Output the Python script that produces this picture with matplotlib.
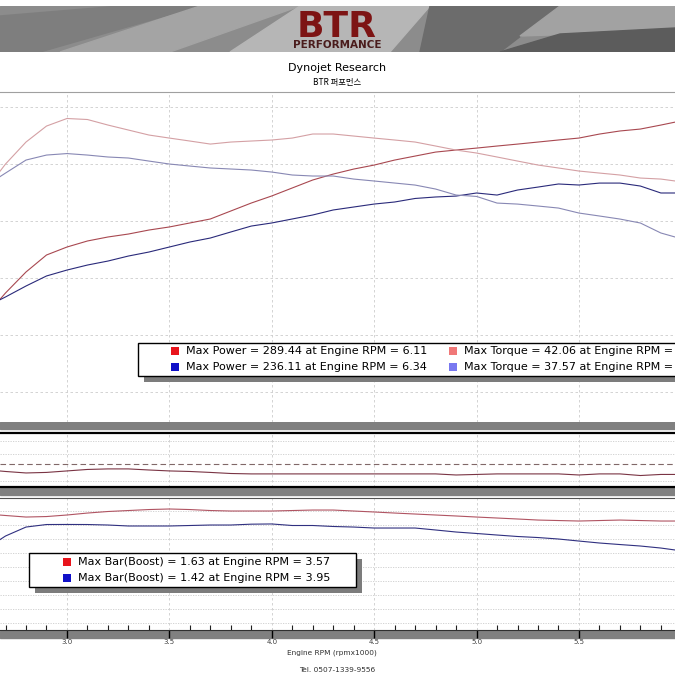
import matplotlib.pyplot as plt
from matplotlib.patches import Rectangle, Polygon

# engine rpm (x1000) shared by all runs
rpm = [2.67, 2.7, 2.8, 2.9, 3.0, 3.1, 3.2, 3.3, 3.4, 3.5, 3.6, 3.7, 3.8, 3.9,
       4.0, 4.1, 4.2, 4.3, 4.4, 4.5, 4.6, 4.7, 4.8, 4.9, 5.0, 5.1, 5.2, 5.3,
       5.4, 5.5, 5.6, 5.7, 5.8, 5.9, 5.97]

# run 1 (red) / run 2 (blue) power, hp
red_power = [130.7, 136.9, 155.3, 170.2, 177.2, 182.5, 186.0, 188.6, 192.1, 194.8,
             198.3, 201.8, 208.8, 215.8, 222.0, 229.0, 236.0, 241.2, 245.6, 249.1,
             253.5, 257.0, 260.5, 262.3, 264.0, 265.8, 267.5, 269.3, 271.1, 272.8,
             276.3, 279.0, 280.7, 284.2, 286.8]
blue_power = [130.7, 133.4, 143.0, 151.8, 157.0, 161.4, 164.9, 169.3, 172.8, 177.2,
              181.6, 185.1, 190.4, 195.6, 198.3, 201.8, 205.3, 209.7, 212.3, 214.9,
              216.7, 219.8, 221.1, 221.9, 224.6, 222.8, 227.2, 229.8, 232.5, 231.6,
              233.3, 233.3, 230.7, 224.6, 224.6]

# torque, kgm
red_torque = [35.13, 36.16, 38.98, 41.03, 42.00, 41.87, 41.16, 40.52, 39.88, 39.49,
              39.11, 38.72, 38.98, 39.11, 39.24, 39.49, 40.01, 40.01, 39.75, 39.49,
              39.24, 38.98, 38.47, 37.95, 37.57, 37.06, 36.54, 36.03, 35.65, 35.26,
              35.00, 34.75, 34.36, 34.23, 33.98]
blue_torque = [34.49, 35.00, 36.67, 37.31, 37.50, 37.31, 37.06, 36.93, 36.54, 36.16,
               35.90, 35.65, 35.52, 35.39, 35.13, 34.75, 34.62, 34.62, 34.23, 33.98,
               33.72, 33.46, 32.95, 32.18, 32.00, 31.15, 31.02, 30.77, 30.51, 29.87,
               29.49, 29.10, 28.59, 27.31, 26.79]

# air/fuel ratio (middle panel)
afr = [11.78, 11.74, 11.63, 11.67, 11.78, 11.89, 11.93, 11.93, 11.85, 11.78,
       11.74, 11.67, 11.59, 11.56, 11.56, 11.56, 11.56, 11.56, 11.56, 11.56,
       11.56, 11.56, 11.56, 11.48, 11.52, 11.56, 11.56, 11.56, 11.56, 11.48,
       11.56, 11.56, 11.44, 11.52, 11.52]
afr_target = 12.3

# boost, bar
red_boost = [1.543, 1.536, 1.514, 1.521, 1.543, 1.571, 1.593, 1.607, 1.621, 1.629,
             1.621, 1.607, 1.600, 1.600, 1.600, 1.607, 1.614, 1.614, 1.600, 1.586,
             1.571, 1.557, 1.543, 1.529, 1.514, 1.500, 1.486, 1.471, 1.464, 1.457,
             1.464, 1.471, 1.464, 1.457, 1.457]
blue_boost = [1.186, 1.243, 1.371, 1.407, 1.408, 1.407, 1.400, 1.386, 1.386, 1.386,
              1.393, 1.400, 1.400, 1.412, 1.415, 1.393, 1.393, 1.379, 1.371, 1.357,
              1.357, 1.357, 1.329, 1.300, 1.279, 1.257, 1.236, 1.221, 1.200, 1.171,
              1.143, 1.121, 1.100, 1.071, 1.043]

# legend numbers
power_peaks = [289.44, 236.11]
power_peak_rpm = [6.11, 6.34]
torque_peaks = [42.06, 37.57]
boost_peaks = [1.63, 1.42]
boost_peak_rpm = [3.57, 3.95]

W = H = 675


def fx(x):
    return x / W


def fy(y):
    return 1 - y / H


fig = plt.figure(figsize=(6.75, 6.75), dpi=100)
fig.patch.set_facecolor('white')
xmin, xmax = 2.673, 5.969
gridc = '#cccccc'
lw_line = 0.8

# --- banner ---
ban = fig.add_axes([0, fy(52), 1, 46 / H])
ban.set_xlim(0, W)
ban.set_ylim(46, 0)
ban.axis('off')
ban.add_patch(Rectangle((0, 0), W, 46, color='#8c8c8c'))
ban.add_patch(Polygon([(0, 10), (120, 0), (200, 0), (40, 46), (0, 46)], color='#7e7e7e'))
ban.add_patch(Polygon([(60, 46), (200, 0), (300, 0), (170, 46)], color='#a4a4a4'))
ban.add_patch(Polygon([(230, 46), (300, 0), (430, 0), (390, 46)], color='#b6b6b6'))
ban.add_patch(Polygon([(430, 0), (560, 0), (500, 46), (420, 46)], color='#6c6c6c'))
ban.add_patch(Polygon([(560, 0), (675, 0), (675, 25), (520, 30)], color='#a2a2a2'))
ban.add_patch(Polygon([(500, 46), (560, 28), (675, 22), (675, 46)], color='#5c5c5c'))
ban.text(337, 31, 'BTR', ha='center', va='baseline', fontsize=26,
         fontweight='bold', color='#7d1414', family='DejaVu Sans')
ban.text(337, 42, 'PERFORMANCE', ha='center', va='baseline', fontsize=7.5,
         fontweight='bold', color='#4a1c1c', family='DejaVu Sans')

fig.text(0.5, fy(68), 'Dynojet Research', ha='center', va='center', fontsize=8)
fig.text(0.5, fy(82), 'BTR 퍼포먼스', ha='center', va='center', fontsize=6,
         family=['Noto Sans CJK KR', 'DejaVu Sans'])


def style_panel(ax):
    ax.set_xlim(xmin, xmax)
    ax.set_xticks([3.0, 3.5, 4.0, 4.5, 5.0, 5.5])
    ax.set_yticks([])
    ax.tick_params(axis='x', length=0, labelbottom=False)
    ax.xaxis.grid(True, color=gridc, linestyle=(0, (3, 3)), linewidth=0.6)
    ax.set_axisbelow(True)


# --- top panel: power & torque ---
ax = fig.add_axes([0, fy(422), 1, (422 - 92) / H])
style_panel(ax)
ax.set_ylim(23.7, 313.2)
for v in [50, 100, 150, 200, 250, 300]:
    ax.axhline(v, color=gridc, linestyle=(0, (3, 3)), linewidth=0.6, zorder=0)
for s in ['left', 'right', 'bottom']:
    ax.spines[s].set_visible(False)
ax.spines['top'].set_color('#a0a0a0')
ax.plot(rpm, red_power, color='#a84850', lw=lw_line)
ax.plot(rpm, blue_power, color='#2a2a7a', lw=lw_line)
axt = ax.twinx()
axt.set_ylim(3.06, 45.40)
axt.axis('off')
axt.plot(rpm, red_torque, color='#d4a0a4', lw=lw_line)
axt.plot(rpm, blue_torque, color='#8888b4', lw=lw_line)

# --- middle panel: AFR ---
am = fig.add_axes([0, fy(487), 1, 54 / H])
style_panel(am)
am.set_ylim(10.59, 14.59)
for v in [11, 13, 14]:
    am.axhline(v, color=gridc, linestyle=(0, (1.5, 1.5)), linewidth=0.6, zorder=0)
am.axhline(afr_target, color='#806868', linestyle=(0, (5, 3)), linewidth=0.8)
am.plot(rpm, afr, color='#7a3444', lw=lw_line)
for s in ['left', 'right']:
    am.spines[s].set_visible(False)
for s in ['top', 'bottom']:
    am.spines[s].set_color('black')
    am.spines[s].set_linewidth(1.6)

# --- bottom panel: boost ---
ab = fig.add_axes([0, fy(630), 1, 132 / H])
style_panel(ab)
ab.set_ylim(-0.1, 1.786)
for v in [0.0, 0.2, 0.4, 0.6, 0.8, 1.0, 1.2, 1.4, 1.6]:
    ab.axhline(v, color=gridc, linestyle=(0, (1.5, 1.5)), linewidth=0.6, zorder=0)
ab.plot(rpm, red_boost, color='#b05462', lw=lw_line)
ab.plot(rpm, blue_boost, color='#303080', lw=lw_line)
for s in ['left', 'right']:
    ab.spines[s].set_visible(False)
ab.spines['top'].set_color('#505050')
ab.spines['bottom'].set_color('#303030')
ab.set_xticks([3.0 + 0.1 * i for i in range(-3, 30)], minor=True)
ab.tick_params(axis='x', which='major', direction='out', length=5.5, width=1,
               color='black', labelbottom=True, labelsize=5,
               labelcolor='#404040', pad=1)
ab.tick_params(axis='x', which='minor', direction='in', length=3.6, width=0.8,
               color='#202020')
ab.set_xticklabels(['3.0', '3.5', '4.0', '4.5', '5.0', '5.5'])

fig.text(fx(332), fy(653), 'Engine RPM (rpmx1000)', ha='center', va='center',
         fontsize=5.3, color='#303030')
fig.text(fx(337), fy(670), 'Tel. 0507-1339-9556', ha='center', va='center',
         fontsize=5.3, color='#303030')

# gray separator bands
for y0, y1 in [(422, 429), (488, 495), (631, 638)]:
    fig.add_artist(Rectangle((0, fy(y1)), 1, (y1 - y0) / H, color='#808080',
                             zorder=-1, transform=fig.transFigure))


# --- legends ---
def legend_box(x0, y0, x1, y1):
    fig.add_artist(Rectangle((fx(x0 + 6), fy(y1 + 6)), fx(x1 - x0), (y1 - y0) / H,
                             facecolor='#7c7c7c', edgecolor='none', zorder=5,
                             transform=fig.transFigure))
    fig.add_artist(Rectangle((fx(x0), fy(y1)), fx(x1 - x0), (y1 - y0) / H,
                             facecolor='white', edgecolor='black', lw=1, zorder=6,
                             transform=fig.transFigure))


def legend_entry(x, y, color, label):
    fig.add_artist(Rectangle((fx(x), fy(y + 4)), fx(8), 8 / H, facecolor=color,
                             edgecolor='none', zorder=7, transform=fig.transFigure))
    fig.text(fx(x + 15), fy(y), label, ha='left', va='center', fontsize=8,
             zorder=8)


legend_box(138, 343, 690, 376)
swatch_power = ['#e8141c', '#1010c8']
swatch_torque = ['#f07878', '#7878f0']
for i, yy in enumerate([351, 367]):
    legend_entry(171, yy, swatch_power[i],
                 f'Max Power = {power_peaks[i]:.2f} at Engine RPM = {power_peak_rpm[i]:.2f}')
    legend_entry(449, yy, swatch_torque[i],
                 f'Max Torque = {torque_peaks[i]:.2f} at Engine RPM =')

legend_box(29, 553, 356, 587)
for i, yy in enumerate([562, 578]):
    legend_entry(63, yy, swatch_power[i],
                 f'Max Bar(Boost) = {boost_peaks[i]:.2f} at Engine RPM = {boost_peak_rpm[i]:.2f}')

fig.savefig('out.png', dpi=100)
